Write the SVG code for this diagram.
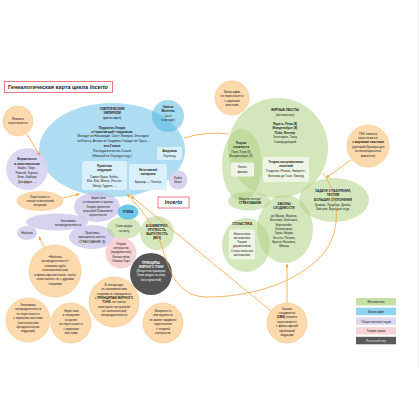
<svg xmlns="http://www.w3.org/2000/svg" width="420" height="420" viewBox="0 0 420 420">
<defs>
<marker id="ah" viewBox="0 0 10 10" refX="9" refY="5" markerWidth="4" markerHeight="4" orient="auto" markerUnits="userSpaceOnUse"><path d="M0,1 L10,5 L0,9 z" fill="#f4a340"/></marker>
</defs>
<style>
text{font-family:"Liberation Sans",Arial,sans-serif;fill:#222;text-anchor:middle;font-size:3px}
.b{font-weight:bold}
.w{fill:#fff}
.peach{fill:#fdd9ae;stroke:#f8c283;stroke-width:0.6}
.green{fill:#b0d285;fill-opacity:0.55}
.blue{fill:#aedcf2}
.lav{fill:#c6bfe6;fill-opacity:0.7}
.ibox{fill:#d9f0fb}
.gbox{fill:#eef5e4}
.conn{fill:none;stroke:#f4a340;stroke-width:0.8}
</style>
<rect width="420" height="420" fill="#fff"/>
<line x1="418.5" y1="0" x2="418.5" y2="367" stroke="#e2e2e2" stroke-width="0.6"/>

<g id="title">
<rect x="4.5" y="81.5" width="108" height="11" fill="#fff" stroke="#e05b6b" stroke-width="0.8"/>
<text x="8" y="89.3" style="text-anchor:start;font-size:5.2px;font-weight:bold" textLength="100" lengthAdjust="spacingAndGlyphs">Генеалогическая карта цикла <tspan font-style="italic">Incerto</tspan></text>
</g>

<g id="skeptical-empiricism">
<ellipse class="blue" cx="112" cy="150" rx="73" ry="47"/>
<g style="font-size:3.5px">
<text class="b" x="112" y="109.5">СКЕПТИЧЕСКИЙ</text>
<text class="b" x="112" y="113.9">ЭМПИРИЗМ</text>
<text x="112" y="118.8">(философия)</text>
<text class="b" x="112" y="128.5">Пирров из Элиды</text>
<text class="b" x="112" y="132.9">и «прыгающий» пирронизм</text>
<text x="113" y="137.3">Менодот из Никомедии, Секст Эмпирик, Энесидем</text>
<text x="114" y="141.9">из Кносса, Антиох из Лаодикеи, Геродот из Тарса, ...</text>
<text class="b" x="112" y="146.5">аль-Газали</text>
<text x="112" y="151.9">Последователи аль-Газали</text>
<text x="112" y="156.5">(Николай из Отрекура и др.)</text>
</g>
</g>

<g id="induction">
<rect class="ibox" x="82" y="161" width="45" height="29" rx="2.5"/>
<text class="b" x="104.5" y="167">Проблема</text>
<text class="b" x="104.5" y="171.4">индукции</text>
<text x="104.5" y="178">Симон Фуше, Бейль,</text>
<text x="104.5" y="182.4">Юм, Юм, Милль, Рассел,</text>
<text x="104.5" y="186.8">Эйзер, Гудмен, ...</text>
</g>

<g id="negative-empiricism">
<rect class="ibox" x="129" y="164" width="38" height="26" rx="2.5"/>
<text class="b" x="148" y="170.5">Негативный</text>
<text class="b" x="148" y="174.9">эмпиризм</text>
<text x="148" y="182.5">Брошар — Поппер</text>
</g>

<g id="academy">
<rect class="ibox" x="157" y="147" width="25" height="13" rx="2"/>
<text class="b" x="169.5" y="152.3">Академия</text>
<text x="169.5" y="156.8">Карнеад</text>
</g>

<g id="montaigne">
<circle cx="168" cy="116" r="16" fill="#48b5e0" fill-opacity="0.5"/>
<text class="b" x="168" y="107.5">Опыты</text>
<text class="b" x="168" y="111.7">Монтеня</text>
<text x="168" y="117">(эссе</text>
<text x="168" y="121.2">о методе)</text>
</g>

<g id="hayek">
<circle cx="178" cy="180" r="9.5" fill="#d8d3ee"/>
<text x="178" y="179">Хайек</text>
<text x="178" y="183.2">Шакл</text>
</g>

<g id="n-nemnogo">
<circle class="peach" cx="18" cy="121" r="15"/>
<text x="18" y="120">Немного</text>
<text x="18" y="124.4">пересекаются</text>
</g>

<g id="probability">
<circle cx="27" cy="169" r="21" fill="#d8d3ee" fill-opacity="0.9"/>
<text class="b" x="27" y="160">Вероятность</text>
<text class="b" x="27" y="164.5">в эпистемологии</text>
<text x="27" y="169.3">Байес, Пирс,</text>
<text x="27" y="173.8">Рамсей, Карнап,</text>
<text x="27" y="178.3">Леви, Кайберг,</text>
<text x="27" y="182.8">Джеффри, ...</text>
</g>

<g id="n-intuition">
<ellipse class="peach" cx="40" cy="201" rx="23" ry="9.5"/>
<text x="40" y="198">Пересекаются</text>
<text x="40" y="202.2">только психологией</text>
<text x="40" y="206.4">интуиции</text>
</g>

<g id="econ-uncertainty">
<ellipse class="lav" cx="57" cy="222" rx="31" ry="8.5"/>
<text x="68" y="221.5">Экономика</text>
<text x="68" y="225.7">неопределенности</text>
</g>

<g id="knight">
<ellipse class="lav" cx="27" cy="233" rx="10" ry="7"/>
<text x="27" y="234">Найтова</text>
</g>

<g id="heuristics">
<ellipse class="lav" cx="97" cy="207" rx="23" ry="15"/>
<text x="98" y="199">Эвристики</text>
<text x="98" y="203.3">и смещения в оценке</text>
<text x="98" y="207.6">Теория принятия</text>
<text x="98" y="211.9">решений Психология</text>
<text x="98" y="216.2">вероятности</text>
</g>

<g id="principal-agent">
<ellipse class="lav" cx="92" cy="237" rx="23" ry="12"/>
<text x="92" y="234">Проблема</text>
<text x="92" y="238.3">принципала-агента,</text>
<text x="92" y="242.6">СТРАХОВАНИЕ (8)</text>
</g>

<g id="skin">
<ellipse class="green" cx="124" cy="228" rx="17" ry="11"/>
<text x="124" y="227.3">Свои шкуры</text>
<text x="124" y="231.6">на кону</text>
</g>

<g id="ethics">
<ellipse cx="128" cy="212" rx="10.5" ry="7.5" fill="#5cc1e6" fill-opacity="0.9"/>
<text class="b" x="128" y="213.2" style="font-size:3.2px">ЭТИКА</text>
</g>

<g id="contracts">
<circle cx="121" cy="253" r="15.5" fill="#f8d3d5"/>
<g style="font-size:2.9px">
<text x="121" y="245">Теория</text>
<text x="121" y="249.2">контрактов</text>
<text x="121" y="253.4">(юридическая)</text>
<text x="121" y="257.6">Хольмстрём,</text>
<text x="121" y="261.8">Оливер Харт</text>
</g>
</g>

<g id="asymmetry">
<circle class="green" cx="157" cy="233" r="17"/>
<text class="b" x="157" y="226.5">АСИММЕТРИЯ,</text>
<text class="b" x="157" y="230.8">ХРУПКОСТЬ,</text>
<text class="b" x="157" y="235.1">ВЫПУКЛОСТЬ</text>
<text class="b" x="157" y="239.4">(ВНЗ)</text>
</g>

<g id="fat-tony">
<circle cx="151" cy="274" r="21" fill="#555"/>
<g style="font-size:2.9px">
<text class="b w" x="151" y="263.5">ПРИНЦИПЫ</text>
<text class="b w" x="151" y="267.8">ЖИРНОГО ТОНИ</text>
<text class="w" x="151" y="272.1">(Искусство проверки</text>
<text class="w" x="151" y="276.4">Свои шкуры на кону</text>
<text class="w" x="151" y="280.7">без глупостей)</text>
</g>
</g>

<g id="incerto">
<rect x="158" y="197" width="31" height="11" fill="#fff" stroke="#e05b6b" stroke-width="0.8"/>
<text x="173.5" y="204.4" style="font-size:5.2px;font-weight:bold;font-style:italic">Incerto</text>
</g>

<g id="n-philosophy">
<circle class="peach" cx="232" cy="98" r="17"/>
<text x="232" y="93">Философия</text>
<text x="232" y="97.4">не пересекается</text>
<text x="232" y="101.8">с жирными</text>
<text x="232" y="106.2">хвостами</text>
</g>

<g id="fat-tails">
<circle class="green" cx="278" cy="148" r="50"/>
<g style="font-size:3.1px">
<text class="b" x="285" y="111">ЖИРНЫЕ ХВОСТЫ</text>
<text x="285" y="115.5">(математика)</text>
<text class="b" x="285" y="125">Парето, Леви (8)</text>
<text class="b" x="285" y="129.4">Мандельброт (8)</text>
<text class="b" x="285" y="133.8">Пэйк, Феллер</text>
<text x="285" y="138.2">Золотарев, Такку</text>
<text x="285" y="142.6">Самородницкий</text>
</g>
</g>

<g id="complexity">
<ellipse class="green" cx="242" cy="165" rx="20" ry="36"/>
<text class="b" x="241" y="143.5">Теория</text>
<text class="b" x="241" y="147.8">сложности</text>
<text x="241" y="152.5">Поль Леви (8)</text>
<text x="241" y="156.8">Мандельброт (8)</text>
<rect class="gbox" x="231" y="162.5" width="23" height="14" rx="2"/>
<text x="242.5" y="168.3">Эконо-</text>
<text x="242.5" y="172.7">физика</text>
</g>

<g id="extreme-values">
<rect class="gbox" x="263" y="157" width="46" height="25" rx="2"/>
<g style="font-size:2.9px">
<text class="b" x="286" y="162.5">Теория экстремальных</text>
<text class="b" x="286" y="166.8">значений</text>
<text x="286" y="172.2">Гнеденко, Резник, Эмбрехтс,</text>
<text x="286" y="176.6">Болкема де Гаан, Пиканд</text>
</g>
</g>

<g id="loss-models">
<ellipse class="green" cx="249" cy="201" rx="21" ry="9.5"/>
<text x="250" y="199.8">Модели потерь/</text>
<text class="b" x="250" y="204">СТРАХОВАНИЕ</text>
</g>

<g id="convergence">
<ellipse class="green" cx="285" cy="229" rx="28" ry="34"/>
<g style="font-size:2.9px">
<text class="b" x="284" y="204.5">ЗАКОНЫ</text>
<text class="b" x="284" y="208.8">СХОДИМОСТИ</text>
<text x="284" y="217">де Муавр, Марков,</text>
<text x="284" y="221.3">Бьенеме, Чебышёв,</text>
<text x="284" y="225.6">Бернштейн,</text>
<text x="284" y="229.9">Колмогоров,</text>
<text x="284" y="234.2">Лукач, Берри,</text>
<text x="284" y="238.5">Эссеен, Петров,</text>
<text x="284" y="242.8">Братья Нагаевы,</text>
<text x="284" y="247.1">Микош</text>
</g>
</g>

<g id="stochastics">
<ellipse class="green" cx="246" cy="245" rx="24" ry="27"/>
<text class="b" x="242" y="225">СТОХАСТИКА</text>
<rect class="gbox" x="229" y="229.5" width="26" height="30" rx="2"/>
<g style="font-size:2.8px">
<text x="242" y="234.5">Финансовая</text>
<text x="242" y="238.7">математика</text>
<text x="242" y="243">Теория</text>
<text x="242" y="247.2">деривативов</text>
<text x="242" y="251.5">Стохастическая</text>
<text x="242" y="255.7">математика</text>
</g>
</g>

<g id="ruin">
<ellipse class="green" cx="334" cy="200" rx="35" ry="22"/>
<g style="font-size:2.9px">
<text class="b" x="333" y="192">ЗАДАЧИ О РАЗОРЕНИИ,</text>
<text class="b" x="333" y="196.2">ТЕОРИЯ</text>
<text class="b" x="333" y="200.6">БОЛЬШИХ ОТКЛОНЕНИЙ</text>
<text x="333" y="205.5">Крамер, Лундберг, Дембо,</text>
<text x="333" y="209.8">Зейтуни, Варадхан и др.</text>
</g>
</g>

<g id="n-tbo">
<circle class="peach" cx="368" cy="146" r="21"/>
<g style="font-size:2.9px">
<text x="368" y="134.5">ТБО немного</text>
<text x="368" y="138.9">пересекаются</text>
<text class="b" x="368" y="143.3">с жирными хвостами</text>
<text x="368" y="147.7">(критерий Крамера для</text>
<text x="368" y="152.1">экспоненциальных</text>
<text x="368" y="156.5">моментов)</text>
</g>
</g>

<g id="connectors">
<path class="conn" d="M27,134 L40,156" marker-end="url(#ah)"/>
<path class="conn" d="M63,198 L79.5,194" marker-end="url(#ah)"/>
<path class="conn" d="M44,247 L39,236.5" marker-end="url(#ah)"/>
<path class="conn" d="M184,138 Q206,131 229,134"/>
<path class="conn" d="M351,160 L326,178" marker-end="url(#ah)"/>
<path class="conn" d="M287,303 L287,264" marker-end="url(#ah)"/>
<path class="conn" d="M271,311 L131,196" marker-end="url(#ah)"/>
<path class="conn" d="M323,173 C342,200 342,240 315,262 C290,284 250,297 207,297 C180,297 170,275 163,250 C157,228 140,208 127,194" marker-end="url(#ah)"/>
</g>

<g id="n-knight">
<circle class="peach" cx="55" cy="271" r="26"/>
<g style="font-size:2.9px">
<text x="55" y="257.5">«Найтова</text>
<text x="55" y="262">неопределенность»</text>
<text x="55" y="266.5">слишком груба</text>
<text x="55" y="271">в математическом</text>
<text x="55" y="275.5">и философском плане, чтобы</text>
<text x="55" y="280">сопоставлять ее с другими</text>
<text x="55" y="284.5">теориями</text>
</g>
</g>

<g id="n-literature">
<circle class="peach" cx="114" cy="302" r="25"/>
<g style="font-size:2.9px">
<text x="114" y="286">В литературе</text>
<text x="114" y="290.3">по экономическим</text>
<text x="114" y="294.6">теориям не обращаются</text>
<text x="114" y="298.9">к <tspan class="b">ПРИНЦИПАМ ЖИРНОГО</tspan></text>
<text x="114" y="303.2"><tspan class="b">ТОНИ</tspan>, не считая</text>
<text x="114" y="307.5">некоторых построений</text>
<text x="114" y="311.8">об экологической</text>
<text x="114" y="316.1">неопределенности</text>
</g>
</g>

<g id="n-econ">
<circle class="peach" cx="28" cy="320" r="22"/>
<g style="font-size:2.9px">
<text x="28" y="306">Экономика</text>
<text x="28" y="310.4">неопределенности</text>
<text x="28" y="314.8">не пересекается</text>
<text x="28" y="319.2">с жирными хвостами</text>
<text x="28" y="323.6">(синтетические</text>
<text x="28" y="328">ортодоксальные</text>
<text x="28" y="332.4">индукции)</text>
</g>
</g>

<g id="n-heuristics">
<circle class="peach" cx="71" cy="323" r="20"/>
<g style="font-size:2.9px">
<text x="71" y="312">Эвристики</text>
<text x="71" y="316.4">и смещения</text>
<text x="71" y="320.8">в оценке</text>
<text x="71" y="325.2">не пересекаются</text>
<text x="71" y="329.6">с жирными</text>
<text x="71" y="334">хвостами</text>
</g>
</g>

<g id="n-convexity">
<circle class="peach" cx="163" cy="323" r="20"/>
<g style="font-size:2.9px">
<text x="163" y="312">Выпуклость</text>
<text x="163" y="316.4">или хрупкость</text>
<text x="163" y="320.8">не имеют видимого</text>
<text x="163" y="325.2">пересечения</text>
<text x="163" y="329.6">с теорией</text>
<text x="163" y="334">контрактов</text>
</g>
</g>

<g id="n-convergence">
<circle class="peach" cx="287" cy="323" r="20"/>
<g style="font-size:2.9px">
<text x="287" y="309.5">Законы</text>
<text x="287" y="313.9">сходимости</text>
<text x="287" y="318.3"><tspan class="b">(ЗВН)</tspan> немного</text>
<text x="287" y="322.7">пересекаются</text>
<text x="287" y="327.1">с философской</text>
<text x="287" y="331.5">проблемой</text>
<text x="287" y="335.9">индукции</text>
</g>
</g>

<g id="legend">
<rect x="356" y="298" width="40" height="7.5" fill="#c6dfa4"/>
<text x="376" y="303.1">Математика</text>
<rect x="356" y="307.7" width="40" height="7.5" fill="#8fd3f0"/>
<text x="376" y="312.8">Философия</text>
<rect x="356" y="317.4" width="40" height="7.5" fill="#dcd8f0"/>
<text x="376" y="322.5">Общественные науки</text>
<rect x="356" y="327.1" width="40" height="7.5" fill="#f9d4d6"/>
<text x="376" y="332.2">Теория права</text>
<rect x="356" y="336.8" width="40" height="7.5" fill="#5a5a5a"/>
<text x="376" y="341.9" style="fill:#ddd">Реальный мир</text>
</g>
</svg>
